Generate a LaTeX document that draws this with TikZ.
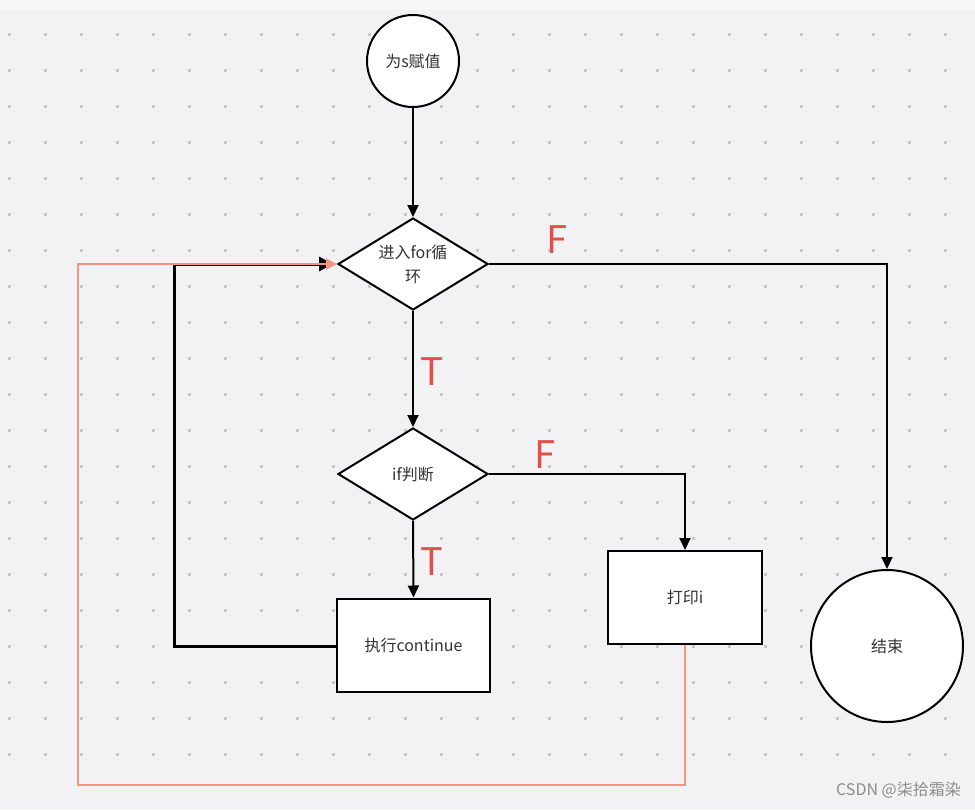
\documentclass[tikz,border=0pt]{standalone}
\usepackage{fontspec}
\setmainfont{Noto Sans CJK SC}
\newfontfamily\cjk{Noto Sans CJK SC}
\newfontfamily\cjklight{Noto Sans CJK SC Light}
\usetikzlibrary{shapes.geometric,arrows.meta}
\definecolor{bgc}{RGB}{242,242,245}
\definecolor{dotc}{RGB}{200,200,204}
\definecolor{txtc}{RGB}{51,51,51}
\definecolor{redc}{RGB}{224,80,72}
\definecolor{salmonc}{RGB}{246,148,128}
\tikzset{
  shapeline/.style={draw=black,line width=2pt,fill=white,text=txtc,font=\cjk\fontsize{16}{24}\selectfont},
  circ/.style={shapeline,circle,inner sep=0pt},
  dia/.style={shapeline,diamond,aspect=1.63,inner sep=0pt,minimum width=150pt,minimum height=92pt,align=center},
  boxn/.style={shapeline,rectangle,inner sep=0pt,minimum width=153pt,minimum height=93pt},
  conn/.style={draw=black,line width=2pt,-{Triangle[length=12pt,width=11pt]}},
  loopb/.style={draw=black,line width=3pt,-{Triangle[length=14pt,width=14pt]}},
  loops/.style={draw=salmonc,line width=2pt,-{Triangle[length=11pt,width=11pt]}},
  lbl/.style={text=redc,font=\cjk\fontsize{38}{40}\selectfont,inner sep=0pt}
}
\begin{document}
\begin{tikzpicture}[x=1pt,y=-1pt]
\fill[bgc] (0,0) rectangle (975,809);
\useasboundingbox (0,0) rectangle (975,809);
\fill[white!40!bgc] (0,0) rectangle (975,10);
\foreach \i in {0,...,26}{
  \foreach \j in {0,...,21}{
    \fill[dotc] ({9.5+36*\i-1.5},{-1.5+36*\j-1.5}) rectangle ++(3,3);
  }
}
% nodes
\node[circ,minimum size=92pt] (start) at (413,61) {为s赋值};
\node[dia] (loop) at (413,264) {进入for循\\环};
\node[dia] (iff) at (413,474) {if判断};
\node[boxn] (exec) at (413.5,645) {执行continue};
\node[boxn,minimum width=154pt] (prt) at (685,597.5) {打印i};
\node[circ,minimum size=152pt] (end) at (887,646) {结束};
% labels
\node[lbl] (f1) at (557,240) {F};
\node[lbl] (t1) at (432,372) {T};
\node[lbl] (f2) at (545,455) {F};
\node[lbl] (t2) at (432,562) {T};
% connectors
\coordinate (c1) at (887,264);
\coordinate (c2) at (685,474);
\coordinate (b1) at (174,646);
\coordinate (b2) at (174,264);
\coordinate (s1) at (685,785);
\coordinate (s2) at (78,785);
\coordinate (s3) at (78,264);
\draw[conn] (start.south) -- (loop.north);
\draw[conn] (loop.east) -- (c1) -- (end.north);
\draw[conn] (loop.south) -- (iff.north);
\draw[conn] (iff.east) -- (c2) -- (prt.north);
\draw[conn] (iff.south) -- (exec.north);
\draw[loopb,shorten >=4pt] (exec.west |- b1) -- (b1) -- (b2) -- (loop.west);
\draw[loops] (prt.south) -- (s1) -- (s2) -- (s3) -- (loop.west);
% watermark
\node[text=black!45,font=\cjk\fontsize{16}{18}\selectfont,anchor=east,inner sep=0pt] (wm) at (961,790) {CSDN @柒拾霜染};
\end{tikzpicture}
\end{document}
